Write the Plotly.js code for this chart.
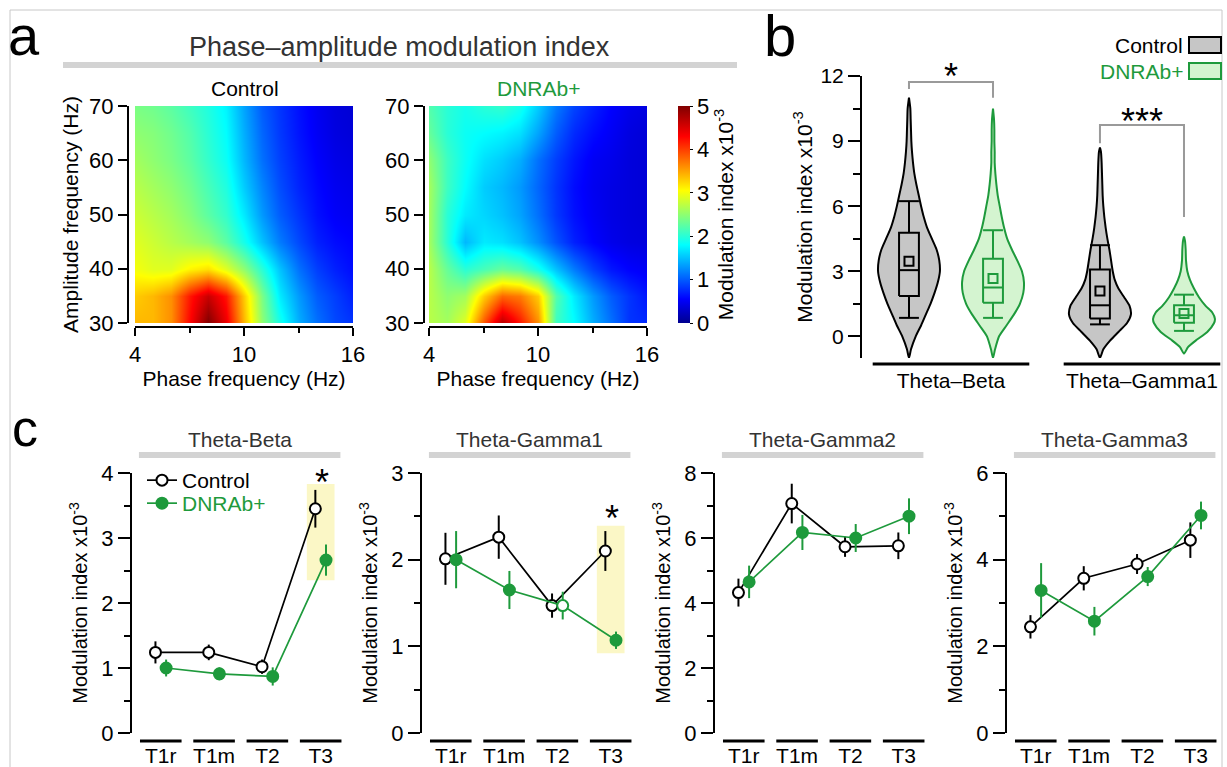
<!DOCTYPE html>
<html><head><meta charset="utf-8">
<script src="https://cdn.plot.ly/plotly-3.0.1.min.js"></script>
<style>html,body{margin:0;padding:0;background:#fff}#chart{width:1227px;height:767px}</style>
</head><body><div id="chart"></div>
<script>
// ================= DATA =================
// Panel a: phase-amplitude comodulograms (values x10^-3)
const phaseFreq = [4,5,6,7,8,9,10,11,12,13,14,15,16];
const ampFreq = [30,35,40,45,50,55,60,65,70];
const miControl = [
  [3.4,3.4,3.6,4.3,5.0,4.4,3.4,2.5,1.9,1.4,1.1,0.9,0.8],
  [3.3,3.4,3.6,4.2,4.6,4.2,3.3,2.4,1.7,1.3,1.0,0.85,0.7],
  [3.0,2.9,2.9,3.1,3.2,2.9,2.5,2.0,1.5,1.1,0.85,0.7,0.6],
  [2.9,2.8,2.7,2.6,2.5,2.25,1.9,1.5,1.15,0.9,0.7,0.6,0.55],
  [2.8,2.7,2.6,2.45,2.25,2.05,1.7,1.3,1.0,0.8,0.62,0.52,0.48],
  [2.7,2.6,2.5,2.35,2.15,1.95,1.55,1.2,0.92,0.72,0.58,0.48,0.44],
  [2.6,2.5,2.4,2.25,2.05,1.85,1.45,1.1,0.86,0.68,0.54,0.44,0.4],
  [2.5,2.45,2.35,2.2,2.0,1.8,1.4,1.05,0.82,0.64,0.5,0.4,0.36],
  [2.4,2.35,2.25,2.1,1.95,1.75,1.35,1.0,0.8,0.62,0.48,0.38,0.34]
];
const miDNRAb = [
  [2.7,2.6,2.9,3.9,4.7,4.2,3.6,2.1,1.8,1.4,1.1,0.8,0.75],
  [2.7,2.5,2.6,3.3,3.8,3.7,3.3,2.2,1.7,1.3,1.0,0.8,0.65],
  [2.7,2.3,2.0,2.15,2.3,2.2,1.9,1.5,1.15,0.85,0.65,0.55,0.5],
  [2.6,2.0,1.45,1.7,1.65,1.5,1.25,0.95,0.7,0.55,0.45,0.4,0.38],
  [2.6,2.0,1.7,1.6,1.5,1.35,1.1,0.82,0.62,0.5,0.42,0.38,0.35],
  [2.6,2.1,1.8,1.55,1.45,1.3,1.05,0.8,0.6,0.48,0.42,0.38,0.35],
  [2.5,2.1,1.85,1.65,1.55,1.4,1.1,0.85,0.65,0.5,0.45,0.38,0.35],
  [2.3,2.0,1.85,1.8,1.75,1.65,1.35,1.0,0.75,0.6,0.5,0.4,0.35],
  [2.2,2.0,1.9,2.0,2.05,1.9,1.55,1.15,0.88,0.7,0.55,0.45,0.4]
];

// Panel b: violin profiles (relative half-width at each level) and box statistics
const violinGroups = ['Theta\u2013Beta','Theta\u2013Gamma1'];
const ctrlBetaLevels = [-1,-0.6,0,0.5,1,1.5,2,2.5,3,3.5,4,4.5,5,5.5,6,6.5,7,7.5,8,8.5,9,9.5,10,10.5,11];
const ctrlBetaWidth  = [0,6,20,36,50,64,76,86,92,90,82,68,54,44,36,29,22,16,12,9,7,6,5,4,0];
const dnrBetaLevels  = [-1,-0.6,0,0.5,1,1.5,2,2.5,3,3.5,4,4.5,5,5.5,6,6.5,7,7.5,8,8.5,9,9.5,10,10.5];
const dnrBetaWidth   = [0,6,18,40,62,80,90,92,86,72,56,42,33,26,20,14,10,7,5,5,4,4,3,0];
const ctrlG1Levels   = [-1,-0.6,-0.2,0.2,0.6,1,1.4,1.8,2.2,2.6,3,3.5,4,4.5,5,5.5,6,6.5,7,7.5,8,8.5,8.7];
const ctrlG1Width    = [0,10,30,55,80,92,88,72,55,44,38,33,28,22,17,13,10,8,7,6,5,3,0];
const dnrG1Levels    = [-0.8,-0.5,-0.2,0.2,0.6,0.8,1.1,1.4,1.8,2.2,2.6,3,3.5,4,4.4,4.6];
const dnrG1Width     = [0,12,35,70,90,93,85,65,45,30,18,10,6,5,3,0];

const ctrlQ1 = [1.86,0.82], ctrlMedian = [3.05,1.43], ctrlQ3 = [4.77,3.08];
const ctrlLow = [0.85,0.55], ctrlHigh = [6.23,4.2], ctrlMean = [3.46,2.09];
const dnrQ1 = [1.55,0.62], dnrMedian = [2.25,0.97], dnrQ3 = [3.58,1.43];
const dnrLow = [0.85,0.25], dnrHigh = [4.89,1.92], dnrMean = [2.66,1.05];

// Panel c: mean +/- SEM per session
const sessions = ['T1r','T1m','T2','T3'];
const couplings = ['Theta-Beta','Theta-Gamma1','Theta-Gamma2','Theta-Gamma3'];
const ctrlBeta = [1.24,1.24,1.02,3.45], ctrlBetaErr = [0.17,0.12,0.11,0.29];
const dnrBeta  = [1.0,0.91,0.87,2.66],  dnrBetaErr  = [0.13,0.1,0.14,0.24];
const ctrlG1 = [2.01,2.26,1.47,2.1],  ctrlG1Err = [0.3,0.25,0.14,0.23];
const dnrG1  = [2.0,1.65,1.47,1.07],  dnrG1Err  = [0.33,0.22,0.16,0.1];
const ctrlG2 = [4.32,7.06,5.73,5.76], ctrlG2Err = [0.43,0.61,0.31,0.41];
const dnrG2  = [4.65,6.17,6.0,6.67],  dnrG2Err  = [0.5,0.54,0.43,0.55];
const ctrlG3 = [2.45,3.57,3.9,4.45],  ctrlG3Err = [0.27,0.28,0.23,0.41];
const dnrG3  = [3.29,2.58,3.61,5.02], dnrG3Err  = [0.63,0.33,0.22,0.32];

// ================= STYLE / LAYOUT =================
const W = 1227, H = 767;
const FONT = 'Liberation Sans, Arial, Helvetica, sans-serif';
const GREEN = '#1e9a3c', LIGHTGREEN = '#d4f4d0', GRAYFILL = '#c6c6c6';
const BAR = '#d3d3d3', TITLEC = '#333333', HILITE = '#fbf7c6';
const px = p => p / W, py = p => 1 - p / H;
const domX = (a, b) => [a / W, b / W];
const domY = (top, bot) => [1 - bot / H, 1 - top / H];
const jet = [[0,'#00008f'],[0.11,'#0000ff'],[0.36,'#00ffff'],[0.61,'#ffff00'],[0.86,'#ff0000'],[1,'#800000']];

const axBase = {showgrid:false, zeroline:false, linecolor:'#000', linewidth:2, tickcolor:'#000',
  tickwidth:2, ticks:'outside', fixedrange:true, showline:true, tickfont:{size:22, color:'#000'}};

const traces = [];
const shapes = [];
const annotations = [];

// ---- Panel a heatmaps ----
traces.push({type:'heatmap', x:phaseFreq, y:ampFreq, z:miControl, coloraxis:'coloraxis', zsmooth:'best', xaxis:'x', yaxis:'y', hoverinfo:'skip', showlegend:false});
traces.push({type:'heatmap', x:phaseFreq, y:ampFreq, z:miDNRAb, coloraxis:'coloraxis', zsmooth:'best', xaxis:'x2', yaxis:'y2', hoverinfo:'skip', showlegend:false});

// ---- Panel b violins ----
const vPos = [1, 2], vOff = 0.22, vHalf = 0.162, boxHalf = 0.052;
function violin(levels, widths, center, lineC, fillC) {
  const m = Math.max(...widths);
  const xs = [], ys = [];
  levels.forEach((v, i) => { xs.push(center + widths[i] / m * vHalf); ys.push(v); });
  for (let i = levels.length - 1; i >= 0; i--) { xs.push(center - widths[i] / m * vHalf); ys.push(levels[i]); }
  return {type:'scatter', mode:'lines', x:xs, y:ys, fill:'toself', fillcolor:fillC,
    line:{color:lineC, width:2, shape:'spline', smoothing:0.6}, xaxis:'x3', yaxis:'y3', hoverinfo:'skip', showlegend:false};
}
traces.push(violin(ctrlBetaLevels, ctrlBetaWidth, vPos[0] - vOff, '#000', GRAYFILL));
traces.push(violin(dnrBetaLevels, dnrBetaWidth, vPos[0] + vOff, GREEN, LIGHTGREEN));
traces.push(violin(ctrlG1Levels, ctrlG1Width, vPos[1] - vOff, '#000', GRAYFILL));
traces.push(violin(dnrG1Levels, dnrG1Width, vPos[1] + vOff, GREEN, LIGHTGREEN));
// box-and-whisker outlines built from the box statistics
function boxTrace(q1, med, q3, lo, hi, sign, col) {
  const xs = [], ys = [];
  vPos.forEach((p, i) => {
    const c = p + sign * vOff, a = c - boxHalf, b = c + boxHalf;
    xs.push(a, b, b, a, a, null, a, b, null, c, c, null, a, b, null, c, c, null, a, b, null);
    ys.push(q1[i], q1[i], q3[i], q3[i], q1[i], null, med[i], med[i], null, q3[i], hi[i], null, hi[i], hi[i], null,
            q1[i], lo[i], null, lo[i], lo[i], null);
  });
  return {type:'scatter', mode:'lines', x:xs, y:ys, connectgaps:false, line:{color:col, width:2},
    xaxis:'x3', yaxis:'y3', hoverinfo:'skip', showlegend:false};
}
traces.push(boxTrace(ctrlQ1, ctrlMedian, ctrlQ3, ctrlLow, ctrlHigh, -1, '#000'));
traces.push(boxTrace(dnrQ1, dnrMedian, dnrQ3, dnrLow, dnrHigh, 1, GREEN));
traces.push({type:'scatter', mode:'markers', x:vPos.map(p => p - vOff), y:ctrlMean, xaxis:'x3', yaxis:'y3',
  marker:{symbol:'square-open', size:9, color:'#000', line:{width:2}}, hoverinfo:'skip', showlegend:false});
traces.push({type:'scatter', mode:'markers', x:vPos.map(p => p + vOff), y:dnrMean, xaxis:'x3', yaxis:'y3',
  marker:{symbol:'square-open', size:9, color:GREEN, line:{width:2}}, hoverinfo:'skip', showlegend:false});

// ---- Panel c ----
const cSeries = [
  [ctrlBeta, ctrlBetaErr, dnrBeta, dnrBetaErr],
  [ctrlG1, ctrlG1Err, dnrG1, dnrG1Err],
  [ctrlG2, ctrlG2Err, dnrG2, dnrG2Err],
  [ctrlG3, ctrlG3Err, dnrG3, dnrG3Err]
];
const cAxisPx = [132, 422, 715, 1007];
const cYmax = [4, 3, 8, 6], cDtick = [1, 1, 2, 2];
const cOff = 0.1;
const catIdx = sessions.map((s, i) => i);
cSeries.forEach((s, k) => {
  const xa = 'x' + (k + 4), ya = 'y' + (k + 4);
  traces.push({type:'scatter', mode:'lines+markers', name:'Control', x:catIdx.map(i => i - cOff), y:s[0],
    error_y:{type:'data', array:s[1], width:0, thickness:2, color:'#000'},
    line:{color:'#000', width:1.7}, marker:{symbol:'circle', size:11, color:'#fff', line:{color:'#000', width:2}},
    xaxis:xa, yaxis:ya, hoverinfo:'skip', showlegend:k === 0, legend:'legend', cliponaxis:false});
  const dnrFill = (k === 1) ? [GREEN, GREEN, '#fff', GREEN] : GREEN;
  traces.push({type:'scatter', mode:'lines+markers', name:'DNRAb+',
    x:catIdx.map(i => i + cOff), y:s[2],
    error_y:{type:'data', array:s[3], width:0, thickness:2, color:GREEN},
    line:{color:GREEN, width:1.7}, marker:{symbol:'circle', size:11, color:dnrFill, line:{color:GREEN, width:2}},
    xaxis:xa, yaxis:ya, hoverinfo:'skip', showlegend:k === 0, legend:'legend2', cliponaxis:false});
});

// ================= LAYOUT =================
const legBase = {xanchor:'left', yanchor:'top', bgcolor:'rgba(0,0,0,0)', itemwidth:30, tracegroupgap:0};
const layout = {
  width:W, height:H, margin:{l:0, r:0, t:0, b:0},
  paper_bgcolor:'#fff', plot_bgcolor:'rgba(0,0,0,0)',
  font:{family:FONT, size:21, color:'#000'},
  showlegend:true,
  legend:Object.assign({}, legBase, {x:px(142), y:py(460), font:{size:21, color:'#000'}}),
  legend2:Object.assign({}, legBase, {x:px(142), y:py(483), font:{size:21, color:GREEN}}),
  coloraxis:{colorscale:jet, cmin:0, cmax:5,
    colorbar:{x:px(678), xanchor:'left', xpad:0, y:py(214.5), yanchor:'middle', ypad:0,
      len:217, lenmode:'pixels', thickness:12, outlinewidth:0,
      tickvals:[0,1,2,3,4,5], ticks:'outside', ticklen:3, tickcolor:'#000', tickfont:{size:22},
      title:{text:'Modulation index x10<sup>-3</sup>', side:'right', font:{size:21}}}},
  xaxis:Object.assign({}, axBase, {domain:domX(135,353), range:[4,16], anchor:'free', position:py(327),
    tickvals:[4,10,16], ticklen:8, minor:{dtick:3, tick0:4, ticklen:5, ticks:'outside', tickcolor:'#000', tickwidth:2},
    title:{text:'Phase frequency (Hz)', font:{size:21}, standoff:4}}),
  yaxis:Object.assign({}, axBase, {domain:domY(106,323), range:[30,70], anchor:'free', position:px(128),
    dtick:10, tick0:30, ticklen:9, title:{text:'Amplitude frequency (Hz)', font:{size:21}, standoff:4}}),
  xaxis2:Object.assign({}, axBase, {domain:domX(429,647), range:[4,16], anchor:'free', position:py(327),
    tickvals:[4,10,16], ticklen:8, minor:{dtick:3, tick0:4, ticklen:5, ticks:'outside', tickcolor:'#000', tickwidth:2},
    title:{text:'Phase frequency (Hz)', font:{size:21}, standoff:4}}),
  yaxis2:Object.assign({}, axBase, {domain:domY(106,323), range:[30,70], anchor:'free', position:px(424),
    dtick:10, tick0:30, ticklen:9}),
  xaxis3:Object.assign({}, axBase, {domain:domX(862,1222), range:[0.534,2.419], anchor:'free', position:py(366),
    showline:false, ticks:'', tickvals:vPos, ticktext:violinGroups, tickfont:{size:21}}),
  yaxis3:Object.assign({}, axBase, {domain:domY(76,358), range:[-1,12], anchor:'x3',
    tickvals:[0,3,6,9,12], ticklen:12, tickfont:{size:21},
    minor:{dtick:1.5, tick0:0, ticklen:7, ticks:'outside', tickcolor:'#000', tickwidth:2},
    title:{text:'Modulation index x10<sup>-3</sup>', font:{size:21}, standoff:2}}),
  shapes:shapes, annotations:annotations
};

cSeries.forEach((s, k) => {
  const a = cAxisPx[k];
  layout['xaxis' + (k + 4)] = Object.assign({}, axBase, {domain:domX(a, a + 210), range:[-0.54, 3.4],
    anchor:'free', position:py(741), showline:false, ticks:'', tickvals:catIdx, ticktext:sessions, tickfont:{size:21}});
  layout['yaxis' + (k + 4)] = Object.assign({}, axBase, {domain:domY(473,733), range:[0, cYmax[k]],
    anchor:'x' + (k + 4), dtick:cDtick[k], tick0:0, ticklen:12,
    minor:{dtick:cDtick[k] / 2, tick0:0, ticklen:6, ticks:'outside', tickcolor:'#000', tickwidth:2},
    title:{text:'Modulation index x10<sup>-3</sup>', font:{size:20}, standoff:8}});
  shapes.push({type:'rect', xref:'x' + (k + 4), yref:'paper', x0:-0.41, x1:3.37, y0:py(458), y1:py(452),
    fillcolor:BAR, line:{width:0}});
  annotations.push({xref:'x' + (k + 4), yref:'paper', x:1.48, y:py(439), text:couplings[k], showarrow:false,
    font:{size:21, color:TITLEC}, xanchor:'center', yanchor:'middle'});
  catIdx.forEach(i => shapes.push({type:'line', xref:'x' + (k + 4), yref:'paper', x0:i - 0.39, x1:i + 0.39,
    y0:py(741), y1:py(741), line:{color:'#000', width:3}}));
});

// highlight boxes and asterisks (panel c)
shapes.push({type:'rect', xref:'x4', yref:'y4', x0:2.74, x1:3.26, y0:2.35, y1:3.83, fillcolor:HILITE, line:{width:0}, layer:'below'});
shapes.push({type:'rect', xref:'x5', yref:'y5', x0:2.74, x1:3.26, y0:0.92, y1:2.39, fillcolor:HILITE, line:{width:0}, layer:'below'});
annotations.push({xref:'x4', yref:'y4', x:3.02, y:3.86, text:'*', showarrow:false, font:{size:36}, yanchor:'middle'});
annotations.push({xref:'x5', yref:'y5', x:3.02, y:2.48, text:'*', showarrow:false, font:{size:36}, yanchor:'middle'});

// panel b underline bars and brackets
vPos.forEach(g => shapes.push({type:'line', xref:'x3', yref:'paper', x0:g - 0.41, x1:g + 0.41, y0:py(364), y1:py(364), line:{color:'#000', width:3}}));
shapes.push({type:'path', xref:'x3', yref:'y3', path:`M ${vPos[0]-vOff} 11.4 L ${vPos[0]-vOff} 11.72 L ${vPos[0]+vOff} 11.72 L ${vPos[0]+vOff} 11.0`, line:{color:'#9a9a9a', width:2}});
shapes.push({type:'path', xref:'x3', yref:'y3', path:`M ${vPos[1]-vOff} 8.9 L ${vPos[1]-vOff} 9.74 L ${vPos[1]+vOff} 9.74 L ${vPos[1]+vOff} 5.5`, line:{color:'#9a9a9a', width:2}});
annotations.push({xref:'x3', yref:'y3', x:vPos[0], y:12.0, text:'*', showarrow:false, font:{size:36}, yanchor:'middle'});
annotations.push({xref:'x3', yref:'y3', x:vPos[1], y:9.9, text:'***', showarrow:false, font:{size:36}, yanchor:'middle'});

// panel b legend
annotations.push({xref:'paper', yref:'paper', x:px(1185), y:py(45), text:'Control', showarrow:false, xanchor:'right', yanchor:'middle', font:{size:21, color:'#000'}});
annotations.push({xref:'paper', yref:'paper', x:px(1185), y:py(71), text:'DNRAb+', showarrow:false, xanchor:'right', yanchor:'middle', font:{size:21, color:GREEN}});
shapes.push({type:'rect', xref:'paper', yref:'paper', x0:px(1189), x1:px(1221), y0:py(53), y1:py(37), fillcolor:GRAYFILL, line:{color:'#000', width:2}});
shapes.push({type:'rect', xref:'paper', yref:'paper', x0:px(1189), x1:px(1221), y0:py(79), y1:py(63), fillcolor:LIGHTGREEN, line:{color:GREEN, width:2}});

// panel a decorations
shapes.push({type:'rect', xref:'paper', yref:'paper', x0:px(63), x1:px(737), y0:py(68), y1:py(62), fillcolor:BAR, line:{width:0}});
annotations.push({xref:'paper', yref:'paper', x:px(399), y:py(47), text:'Phase\u2013amplitude modulation index', showarrow:false, font:{size:27, color:TITLEC}, xanchor:'center', yanchor:'middle'});
annotations.push({xref:'paper', yref:'paper', x:px(245), y:py(89), text:'Control', showarrow:false, font:{size:21, color:'#000'}, xanchor:'center', yanchor:'middle'});
annotations.push({xref:'paper', yref:'paper', x:px(538), y:py(89), text:'DNRAb+', showarrow:false, font:{size:21, color:GREEN}, xanchor:'center', yanchor:'middle'});

// panel letters
annotations.push({xref:'paper', yref:'paper', x:px(6), y:py(36), text:'a', showarrow:false, font:{size:56}, xanchor:'left', yanchor:'middle'});
annotations.push({xref:'paper', yref:'paper', x:px(762), y:py(36), text:'b', showarrow:false, font:{size:58}, xanchor:'left', yanchor:'middle'});
annotations.push({xref:'paper', yref:'paper', x:px(10), y:py(428), text:'c', showarrow:false, font:{size:52}, xanchor:'left', yanchor:'middle'});

// outer frame
shapes.push({type:'rect', xref:'paper', yref:'paper', x0:px(10), x1:px(1222), y0:py(790), y1:py(10), fillcolor:'rgba(0,0,0,0)', line:{color:'#c8c8c8', width:1}, layer:'below'});

Plotly.newPlot('chart', traces, layout, {staticPlot:true, displayModeBar:false});
</script></body></html>
